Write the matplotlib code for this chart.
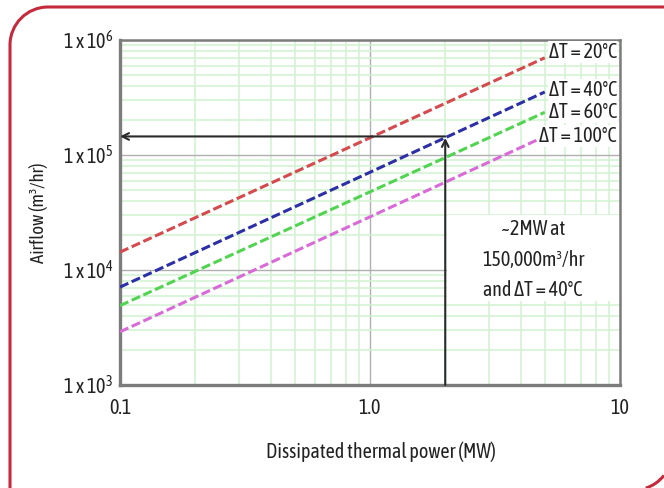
import matplotlib
matplotlib.use("Agg")
import matplotlib.pyplot as plt
from matplotlib.patches import PathPatch, Rectangle, Arc
from matplotlib.path import Path
from matplotlib.transforms import Affine2D
from matplotlib.ticker import FixedLocator, FixedFormatter, NullFormatter, LogLocator

plt.rcParams["font.family"] = ["Asap Condensed", "DejaVu Sans"]
plt.rcParams["mathtext.fontset"] = "custom"
plt.rcParams["mathtext.rm"] = "Asap Condensed"
plt.rcParams["mathtext.it"] = "Asap Condensed"

# values
power = [0.1, 5.0]  # MW
airflow_dt20 = [14300, 700000]
airflow_dt40 = [7100, 353000]
airflow_dt60 = [4900, 235000]
airflow_dt100 = [2900, 145000]
series_labels = ["ΔT = 20°C", "ΔT = 40°C", "ΔT = 60°C", "ΔT = 100°C"]
series_colors = ["#d54a4f", "#2c2fa6", "#52d452", "#d96ad8"]

target_power = 2.0
target_airflow = 145000

x_ticks = [0.1, 1.0, 10]
x_ticklabels = ["0.1", "1.0", "10"]
y_ticks = [1e3, 1e4, 1e5, 1e6]
y_ticklabels = [r"1 x 10$^{3}$", r"1 x 10$^{4}$", r"1 x 10$^{5}$", r"1 x 10$^{6}$"]

note_lines = ["~2MW at", "150,000m³/hr", "and ΔT = 40°C"]

text_col = "#222222"
fig = plt.figure(figsize=(6.64, 4.88), dpi=100)
ax = fig.add_axes([120 / 664, 1 - 385 / 488, 500 / 664, 345 / 488])

ax.set_xscale("log")
ax.set_yscale("log")
ax.set_xlim(0.1, 10)
ax.set_ylim(1e3, 1e6)

ax.xaxis.set_major_locator(FixedLocator(x_ticks))
ax.xaxis.set_major_formatter(FixedFormatter(x_ticklabels))
ax.yaxis.set_major_locator(FixedLocator(y_ticks))
ax.yaxis.set_major_formatter(FixedFormatter(y_ticklabels))
for axis in (ax.xaxis, ax.yaxis):
    axis.set_minor_locator(LogLocator(base=10, subs=range(2, 10)))
    axis.set_minor_formatter(NullFormatter())
ax.tick_params(which="both", length=0, labelsize=14.5, labelcolor=text_col)
ax.tick_params(axis="x", pad=9)
ax.tick_params(axis="y", pad=5)

ax.set_axisbelow(True)
ax.grid(which="minor", color="#d0f2d0", lw=1.1)
ax.grid(which="major", color="#b0b0b0", lw=1.0)

for name, sp in ax.spines.items():
    sp.set_color("#7c7c7c")
    sp.set_linewidth(2.4 if name in ("left", "bottom") else 1.8)

all_series = [airflow_dt20, airflow_dt40, airflow_dt60, airflow_dt100]
label_offsets = [4, 1.5, 0, 0]
for vals, lab, col, off in zip(all_series, series_labels, series_colors, label_offsets):
    ax.plot(power, vals, color=col, lw=2.2, ls=(0, (3, 1.2)), zorder=3)
    ax.annotate(lab, xy=(0.994, vals[-1]), xycoords=ax.get_yaxis_transform(),
                xytext=(0, off), textcoords="offset points",
                ha="right", va="center", fontsize=14.5, color=text_col, zorder=4,
                bbox=dict(boxstyle="square,pad=0.05", fc="white", ec="none"))

# white box behind the note
ax.add_patch(Rectangle((0.654, 0.2435), 0.346, 0.2493, transform=ax.transAxes,
                       fc="white", ec="none", zorder=1))
for txt, yy in zip(note_lines, [0.452, 0.362, 0.275]):
    ax.text(0.826, yy, txt, transform=ax.transAxes, ha="center", va="center",
            fontsize=14.5, color=text_col, zorder=4)

arrow_kw = dict(arrowstyle="->", color="#2a2a2a", lw=1.5, shrinkA=0, shrinkB=0,
                mutation_scale=12)
ax.annotate("", xy=(0.1, target_airflow), xytext=(target_power, target_airflow),
            arrowprops=arrow_kw, annotation_clip=False, zorder=5)
ax.annotate("", xy=(target_power, target_airflow * 0.97), xytext=(target_power, 1e3),
            arrowprops=arrow_kw, annotation_clip=False, zorder=5)

ax.set_xlabel("Dissipated thermal power (MW)", fontsize=14.5, color=text_col)
ax.xaxis.set_label_coords(0.522, -0.194)
ax.xaxis.label.set_va("center")
ax.set_ylabel("Airflow (m³/hr)", fontsize=13.5, color=text_col)
ax.yaxis.set_label_coords(-0.164, 0.5)
ax.yaxis.label.set_va("center")

# red frame, only the parts inside the picture (pixel coords, y up)
px_to_fig = Affine2D().scale(1 / 664, 1 / 488) + fig.transFigure
frame_col = "#c42a3c"
r = 38
k = 0.5523 * r
x0, yt = 10, 481
verts = [(x0, 0), (x0, yt - r),
         (x0, yt - r + k), (x0 + r - k, yt), (x0 + r, yt),
         (664, yt)]
codes = [Path.MOVETO, Path.LINETO,
         Path.CURVE4, Path.CURVE4, Path.CURVE4,
         Path.LINETO]
fig.add_artist(PathPatch(Path(verts, codes), transform=px_to_fig,
                         fill=False, ec=frame_col, lw=2.2, capstyle="butt"))
fig.add_artist(Arc((634, 36), 2 * r, 2 * r, theta1=-72, theta2=-38,
                   transform=px_to_fig, color=frame_col, lw=2.2))

fig.savefig("out.png", dpi=100)
